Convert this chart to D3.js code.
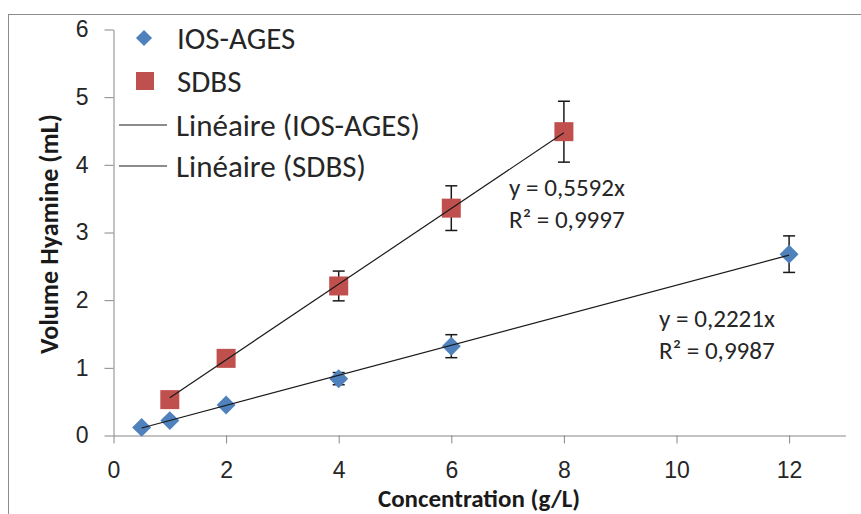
<!DOCTYPE html>
<html>
<head>
<meta charset="utf-8">
<script src="https://cdn.jsdelivr.net/npm/d3@7"></script>
<style>
  body { margin: 0; background: #fff; }
  svg { font-family: Carlito, Lato, "Open Sans", sans-serif; }
</style>
</head>
<body>
<div id="chart"></div>
<script>
// data
const iosX = [0.5, 1, 2, 4, 6, 12];
const iosY = [0.12, 0.22, 0.45, 0.84, 1.32, 2.68];
const iosErr = [0, 0, 0, 0.09, 0.17, 0.27];

const sdbsX = [1, 2, 4, 6, 8];
const sdbsY = [0.53, 1.14, 2.21, 3.36, 4.49];
const sdbsErr = [0, 0, 0.22, 0.33, 0.45];

const iosSlope = 0.2221, sdbsSlope = 0.5592;
const iosLabel = ["y = 0,2221x", "R² = 0,9987"];
const sdbsLabel = ["y = 0,5592x", "R² = 0,9997"];

const xTicks = [0, 2, 4, 6, 8, 10, 12];
const yTicks = [0, 1, 2, 3, 4, 5, 6];
const legendItems = ["IOS-AGES", "SDBS", "Linéaire (IOS-AGES)", "Linéaire (SDBS)"];

const blue = "#4f81bd", red = "#c0504d", axisCol = "#868686";

const W = 861, H = 514;

const svg = d3.select("#chart").append("svg")
  .attr("width", W).attr("height", H);

// scale a text's font so its width matches the width seen in the picture
function fitWidth(sel, target) {
  const fs = parseFloat(sel.style("font-size"));
  const w = sel.node().getComputedTextLength();
  return fs * target / w;
}

// outer frame
svg.append("rect")
  .attr("x", 8.5).attr("y", 14.5)
  .attr("width", W + 20).attr("height", H + 20)
  .attr("fill", "none").attr("stroke", "#8c8c8c");

const x = d3.scaleLinear().domain([0, 13]).range([113.5, 113.5 + 13 * 56.3]);
const y = d3.scaleLinear().domain([0, 6]).range([435.5, 29.5]);

// axes
const xAxis = svg.append("g")
  .attr("transform", `translate(0,${y(0)})`)
  .call(d3.axisBottom(x).tickValues(xTicks).tickSize(8).tickPadding(18).tickSizeOuter(0));
const yAxis = svg.append("g")
  .attr("transform", `translate(${x(0)},0)`)
  .call(d3.axisLeft(y).tickValues(yTicks).tickFormat(d3.format("d"))
    .tickSize(9).tickPadding(16).tickSizeOuter(0));

[xAxis, yAxis].forEach(a => {
  a.select(".domain").attr("stroke", axisCol);
  a.selectAll(".tick line").attr("stroke", axisCol);
  a.selectAll(".tick text").attr("fill", "#262626")
    .style("font-size", "23px").style("font-family", "inherit");
});

// axis titles
svg.append("text")
  .attr("x", 479).attr("y", 507)
  .attr("text-anchor", "middle")
  .style("font-size", "25px").style("font-weight", "bold")
  .attr("fill", "#1a1a1a")
  .text("Concentration (g/L)");

const yTitle = svg.append("text")
  .attr("transform", "translate(58,234) rotate(-90)")
  .attr("text-anchor", "middle")
  .style("font-size", "22px").style("font-weight", "bold")
  .attr("fill", "#1a1a1a")
  .text("Volume Hyamine (mL)");
yTitle.style("font-size", fitWidth(yTitle, 240) + "px");

const ios = iosX.map((d, i) => ({ x: d, y: iosY[i], e: iosErr[i] }));
const sdbs = sdbsX.map((d, i) => ({ x: d, y: sdbsY[i], e: sdbsErr[i] }));

// error bars (behind the markers)
function errorBars(data) {
  const g = svg.append("g").attr("stroke", "#1a1a1a").attr("stroke-width", 1.5);
  data.filter(d => d.e > 0).forEach(d => {
    const cx = x(d.x), y1 = y(d.y + d.e), y2 = y(d.y - d.e);
    g.append("line").attr("x1", cx).attr("x2", cx).attr("y1", y1).attr("y2", y2);
    g.append("line").attr("x1", cx - 6).attr("x2", cx + 6).attr("y1", y1).attr("y2", y1);
    g.append("line").attr("x1", cx - 6).attr("x2", cx + 6).attr("y1", y2).attr("y2", y2);
  });
}
errorBars(ios);
errorBars(sdbs);

// markers
svg.append("g").selectAll("path")
  .data(ios).enter().append("path")
  .attr("d", d3.symbol().type(d3.symbolSquare).size(180))
  .attr("transform", d => `translate(${x(d.x)},${y(d.y)}) rotate(45)`)
  .attr("fill", blue);

svg.append("g").selectAll("rect")
  .data(sdbs).enter().append("rect")
  .attr("x", d => x(d.x) - 9.5).attr("y", d => y(d.y) - 9.5)
  .attr("width", 19).attr("height", 19)
  .attr("fill", red);

// trend lines (through origin)
function trend(xs, slope) {
  const ext = d3.extent(xs);
  svg.append("line")
    .attr("x1", x(ext[0])).attr("y1", y(ext[0] * slope))
    .attr("x2", x(ext[1])).attr("y2", y(ext[1] * slope))
    .attr("stroke", "#1a1a1a").attr("stroke-width", 1.2);
}
trend(iosX, iosSlope);
trend(sdbsX, sdbsSlope);

// equation labels
const eqs = [];
function eqLabel(lines, lx, ly) {
  const t = svg.append("text").attr("x", lx).attr("y", ly)
    .style("font-size", "22px").attr("fill", "#262626");
  lines.forEach((s, i) => {
    t.append("tspan").attr("x", lx).attr("dy", i ? 32 : 0).text(s);
  });
  eqs.push(t);
}
eqLabel(sdbsLabel, 509, 196);
eqLabel(iosLabel, 659, 327);
const eqSize = fitWidth(eqs[0].select("tspan"), 116);
eqs.forEach(t => t.style("font-size", eqSize + "px"));

// legend
const lg = svg.append("g");
const rowY = [38, 81, 125, 166];
lg.append("path")
  .attr("d", d3.symbol().type(d3.symbolSquare).size(130))
  .attr("transform", `translate(144,${rowY[0]}) rotate(45)`)
  .attr("fill", blue);
lg.append("rect").attr("x", 136).attr("y", rowY[1] - 9).attr("width", 18).attr("height", 18).attr("fill", red);
[2, 3].forEach(i => {
  lg.append("line").attr("x1", 119).attr("x2", 167)
    .attr("y1", rowY[i]).attr("y2", rowY[i])
    .attr("stroke", "#1a1a1a").attr("stroke-width", 1.2);
});
const lgText = lg.selectAll("text").data(legendItems).enter().append("text")
  .attr("x", (d, i) => i < 2 ? 177 : 176)
  .attr("y", (d, i) => rowY[i])
  .attr("dy", "0.35em")
  .style("font-size", "26px").attr("fill", "#262626")
  .text(d => d);
const lgSize = fitWidth(lgText.filter((d, i) => i === 2), 244);
lgText.style("font-size", lgSize + "px");
</script>
</body>
</html>
